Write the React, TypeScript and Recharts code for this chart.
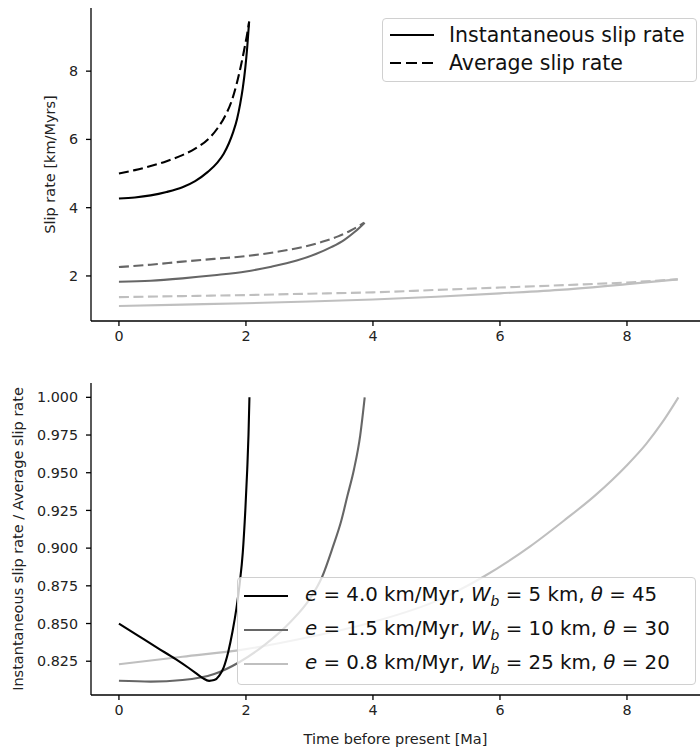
import { LineChart, Line, XAxis, YAxis, Legend } from "recharts"

// [time before present (Ma), value]
const blackInst = [
  [0, 4.27], [0.25, 4.3], [0.5, 4.36], [0.75, 4.46], [1.0, 4.6], [1.2, 4.78],
  [1.4, 5.05], [1.55, 5.32], [1.65, 5.58], [1.73, 5.88], [1.8, 6.22], [1.86, 6.6],
  [1.91, 7.05], [1.95, 7.5], [1.99, 8.1], [2.02, 8.7], [2.05, 9.45],
]
const blackAvg = [
  [0, 5.0], [0.25, 5.1], [0.5, 5.22], [0.75, 5.36], [1.0, 5.54], [1.2, 5.73],
  [1.4, 6.0], [1.55, 6.32], [1.67, 6.68], [1.77, 7.1], [1.85, 7.6], [1.92, 8.15],
  [1.98, 8.7], [2.02, 9.1], [2.05, 9.45],
]
const grayInst = [
  [0, 1.83], [0.5, 1.86], [1.0, 1.93], [1.5, 2.02], [2.0, 2.13], [2.4, 2.27],
  [2.8, 2.45], [3.1, 2.64], [3.35, 2.85], [3.55, 3.06], [3.72, 3.3], [3.87, 3.56],
]
const grayAvg = [
  [0, 2.26], [0.5, 2.33], [1.0, 2.42], [1.5, 2.5], [2.0, 2.58], [2.5, 2.71],
  [2.9, 2.85], [3.2, 3.0], [3.45, 3.16], [3.65, 3.33], [3.86, 3.56],
]
const lightInst = [
  [0, 1.12], [1, 1.16], [2, 1.2], [3, 1.25], [4, 1.31], [5, 1.39],
  [6, 1.49], [7, 1.6], [8, 1.76], [8.8, 1.9],
]
const lightAvg = [
  [0, 1.38], [1, 1.41], [2, 1.44], [3, 1.48], [4, 1.52], [5, 1.59],
  [6, 1.66], [7, 1.73], [8, 1.81], [8.8, 1.9],
]

// instantaneous / average
const blackRatio = [
  [0, 0.85], [0.3, 0.842], [0.6, 0.834], [0.9, 0.8262], [1.1, 0.8205], [1.2, 0.8175],
  [1.32, 0.8138], [1.42, 0.812], [1.5, 0.8125], [1.58, 0.8155], [1.65, 0.821],
  [1.72, 0.831], [1.79, 0.845], [1.85, 0.86], [1.9, 0.876], [1.95, 0.897],
  [1.99, 0.925], [2.02, 0.952], [2.04, 0.975], [2.055, 1.0],
]
const grayRatio = [
  [0, 0.812], [0.5, 0.8115], [1.0, 0.8125], [1.5, 0.8165], [1.9, 0.8245], [2.3, 0.836],
  [2.7, 0.851], [3.0, 0.866], [3.2, 0.881], [3.37, 0.901], [3.5, 0.918], [3.6, 0.935],
  [3.7, 0.952], [3.8, 0.975], [3.87, 1.0],
]
const lightRatio = [
  [0, 0.823], [1, 0.828], [2, 0.833], [3, 0.841], [4, 0.851], [5, 0.865],
  [5.74, 0.881], [6.47, 0.901], [7.0, 0.918], [7.5, 0.935], [8.0, 0.955],
  [8.3, 0.969], [8.55, 0.983], [8.81, 1.0],
]

const xTicks = [0, 2, 4, 6, 8]
const topTicks = [2, 4, 6, 8]
const bottomTicks = [0.825, 0.85, 0.875, 0.9, 0.925, 0.95, 0.975, 1.0]

const caseLabels = [
  ["4.0", "5", "45"],
  ["1.5", "10", "30"],
  ["0.8", "25", "20"],
]

const BLACK = "#000000"
const GRAY = "#666666"
const LIGHT = "#bfbfbf"
const FONT = "DejaVu Sans"
const DASH = "10 4.5"

const toRows = (pts: number[][]) => pts.map(([x, y]) => ({ x, y }))

const axisProps = {
  stroke: "#000",
  strokeWidth: 1.3,
  tickSize: 5,
  tick: { fill: "#222", fontSize: 14.3, fontFamily: FONT },
}

const VTitle = (props: any) => {
  const { viewBox, value, cx } = props
  const cy = viewBox.y + viewBox.height / 2
  return (
    <text
      x={cx}
      y={cy}
      transform={`rotate(-90 ${cx} ${cy})`}
      textAnchor="middle"
      dominantBaseline="central"
      fill="#222"
      fontSize={14.5}
      fontFamily={FONT}
    >
      {value}
    </text>
  )
}

const Sample = ({ color, dashed }: { color: string; dashed?: boolean }) => (
  <svg width={44} height={6} style={{ display: "block" }}>
    <line x1={0} y1={3} x2={44} y2={3} stroke={color} strokeWidth={2.2} strokeDasharray={dashed ? "11 5" : undefined} />
  </svg>
)

const boxStyle = {
  background: "rgba(255,255,255,0.8)",
  border: "1px solid #d0d0d0",
  borderRadius: 4,
  fontFamily: FONT,
  color: "#111",
  boxSizing: "border-box" as const,
}

const TopLegend = () => (
  <div style={{ ...boxStyle, fontSize: 20.5, width: 315, height: 64, padding: "2px 0 0 7px" }}>
    {[["Instantaneous slip rate", false], ["Average slip rate", true]].map(([t, d]) => (
      <div key={t as string} style={{ display: "flex", alignItems: "center", height: 28 }}>
        <Sample color={BLACK} dashed={d as boolean} />
        <span style={{ marginLeft: 15, whiteSpace: "nowrap" }}>{t as string}</span>
      </div>
    ))}
  </div>
)

const BottomLegend = () => (
  <div style={{ ...boxStyle, fontSize: 19.8, width: 459, height: 108, padding: "1px 0 0 6px" }}>
    {caseLabels.map(([e, w, th], i) => (
      <div key={i} style={{ display: "flex", alignItems: "center", height: 34 }}>
        <Sample color={[BLACK, GRAY, LIGHT][i]} />
        <span style={{ marginLeft: 17, whiteSpace: "nowrap" }}>
          <i>e</i> = {e} km/Myr, <i>W</i>
          <sub style={{ fontSize: 14, fontStyle: "italic" }}>b</sub> = {w} km, <i>θ</i> = {th}
        </span>
      </div>
    ))}
  </div>
)

const legendPos = {
  layout: "vertical" as const,
  align: "center" as const,
  verticalAlign: "middle" as const,
}

export default function App() {
  return (
    <div style={{ position: "absolute", left: 0, top: 0, width: 700, height: 750, background: "#fff" }}>
      <LineChart width={700} height={360} margin={{ top: 8, right: 0, bottom: 0, left: 0 }}>
        <XAxis
          type="number"
          dataKey="x"
          domain={[-0.44, 9.15]}
          ticks={xTicks}
          allowDataOverflow
          height={39}
          tickMargin={5}
          {...axisProps}
        />
        <YAxis
          type="number"
          domain={[0.68, 9.85]}
          ticks={topTicks}
          allowDataOverflow
          width={91}
          tickMargin={8}
          {...axisProps}
          label={<VTitle value="Slip rate [km/Myrs]" cx={50} />}
        />
        <Legend {...legendPos} content={<TopLegend />} wrapperStyle={{ top: 18, left: 382, width: 315 }} />
        <Line data={toRows(lightAvg)} dataKey="y" type="monotone" stroke={LIGHT} strokeWidth={2.1} strokeDasharray={DASH} dot={false} isAnimationActive={false} />
        <Line data={toRows(lightInst)} dataKey="y" type="monotone" stroke={LIGHT} strokeWidth={2.1} dot={false} isAnimationActive={false} />
        <Line data={toRows(grayAvg)} dataKey="y" type="monotone" stroke={GRAY} strokeWidth={2.1} strokeDasharray={DASH} dot={false} isAnimationActive={false} />
        <Line data={toRows(grayInst)} dataKey="y" type="monotone" stroke={GRAY} strokeWidth={2.1} dot={false} isAnimationActive={false} />
        <Line data={toRows(blackAvg)} dataKey="y" type="monotone" stroke={BLACK} strokeWidth={2.1} strokeDasharray={DASH} dot={false} isAnimationActive={false} />
        <Line data={toRows(blackInst)} dataKey="y" type="monotone" stroke={BLACK} strokeWidth={2.1} dot={false} isAnimationActive={false} />
      </LineChart>

      <LineChart width={700} height={390} margin={{ top: 23, right: 0, bottom: 0, left: 0 }}>
        <XAxis
          type="number"
          dataKey="x"
          domain={[-0.44, 9.15]}
          ticks={xTicks}
          allowDataOverflow
          height={55}
          tickMargin={5}
          {...axisProps}
          label={{ value: "Time before present [Ma]", position: "insideBottom", offset: 6, fill: "#222", fontSize: 14.5, fontFamily: FONT }}
        />
        <YAxis
          type="number"
          domain={[0.8026, 1.0095]}
          ticks={bottomTicks}
          tickFormatter={(v: number) => v.toFixed(3)}
          allowDataOverflow
          width={91}
          tickMargin={8}
          {...axisProps}
          label={<VTitle value="Instantaneous slip rate /  Average slip rate" cx={18} />}
        />
        <Line data={toRows(lightRatio)} dataKey="y" type="monotone" stroke={LIGHT} strokeWidth={2.1} dot={false} isAnimationActive={false} />
        <Line data={toRows(grayRatio)} dataKey="y" type="monotone" stroke={GRAY} strokeWidth={2.1} dot={false} isAnimationActive={false} />
        <Line data={toRows(blackRatio)} dataKey="y" type="monotone" stroke={BLACK} strokeWidth={2.1} dot={false} isAnimationActive={false} />
        <Legend {...legendPos} content={<BottomLegend />} wrapperStyle={{ top: 217, left: 237, width: 459 }} />
      </LineChart>
    </div>
  )
}
